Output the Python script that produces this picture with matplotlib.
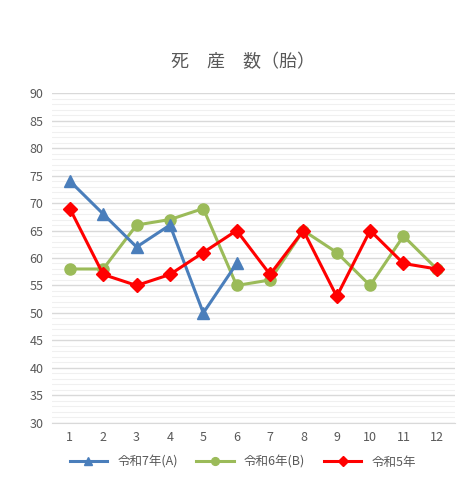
import numpy as np
import matplotlib.pyplot as plt

plt.rcParams['font.family'] = ['Noto Sans CJK JP', 'DejaVu Sans']

months = list(range(1, 13))
r7 = [74, 68, 62, 66, 50, 59]
r6 = [58, 58, 66, 67, 69, 55, 56, 65, 61, 55, 64, 58]
r5 = [69, 57, 55, 57, 61, 65, 57, 65, 53, 65, 59, 58]

fig = plt.figure(figsize=(4.67, 4.8), dpi=100)
ax = fig.add_axes([0.111, 0.119, 0.863, 0.687])

ax.plot(months[:len(r7)], r7, color='#4a7ebb', lw=2.2, marker='^', ms=8, label='令和7年(A)', zorder=3)
ax.plot(months, r6, color='#9bbb59', lw=2.2, marker='o', ms=8, label='令和6年(B)', zorder=2)
ax.plot(months, r5, color='#ff0000', lw=2.2, marker='D', ms=7, label='令和5年', zorder=4)

ax.set_ylim(30, 90)
ax.set_xlim(0.46, 12.54)
ax.set_yticks(range(30, 91, 5))
ax.set_yticks(range(30, 91, 1), minor=True)
ax.set_xticks(months)
ax.grid(axis='y', which='major', color='#d9d9d9', lw=1)
ax.grid(axis='y', which='minor', color='#f0f0f0', lw=0.8)
ax.set_axisbelow(True)
for s in ax.spines.values():
    s.set_visible(False)
ax.spines['bottom'].set_visible(True)
ax.spines['bottom'].set_color('#d9d9d9')
ax.tick_params(which='both', length=0, labelsize=9, colors='#595959', pad=6)

fig.text(0.52, 0.87, '死　産　数（胎）', ha='center', va='center', fontsize=13, color='#595959')
fig.legend(loc='lower center', bbox_to_anchor=(0.52, 0.0), ncol=3, frameon=False,
           fontsize=9, labelcolor='#595959', handlelength=3, markerscale=0.7,
           columnspacing=1.5)

fig.savefig('out.png', dpi=100)
